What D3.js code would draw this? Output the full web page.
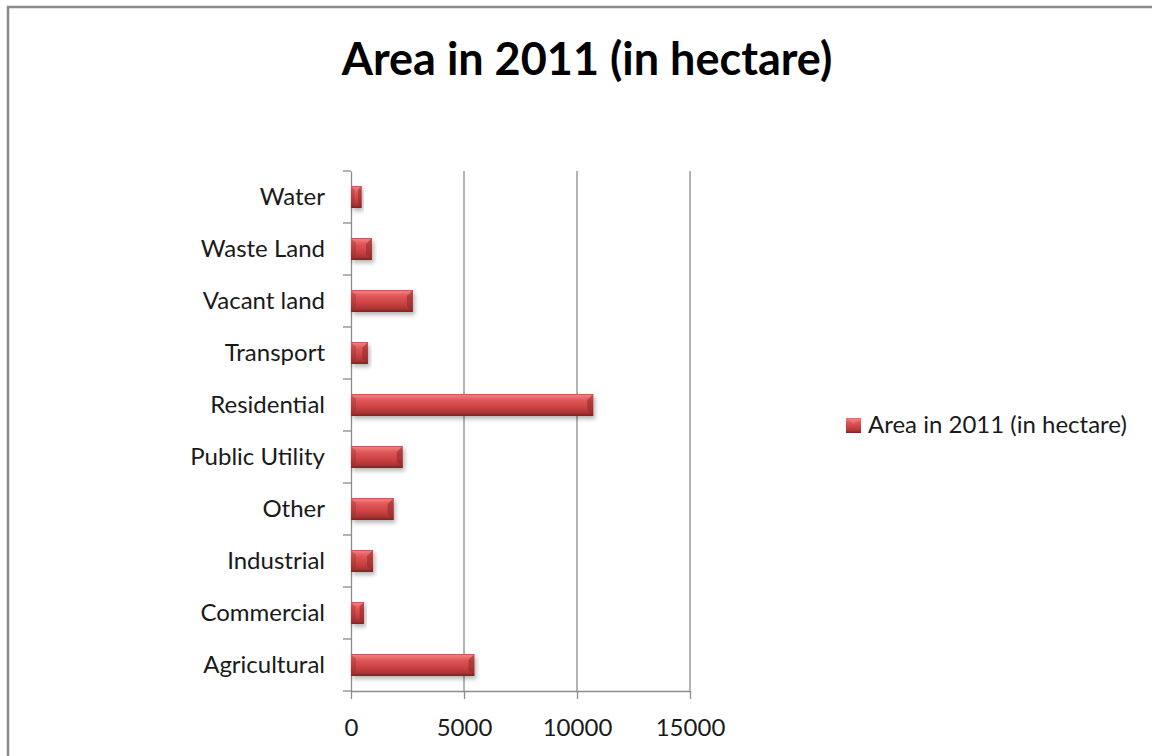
<!DOCTYPE html>
<html>
<head>
<meta charset="utf-8">
<script src="https://cdn.jsdelivr.net/npm/d3@7"></script>
<style>
  html, body { margin: 0; padding: 0; background: #fff; }
  svg { display: block; }
  text { font-family: Lato, "Open Sans", sans-serif; fill: #1a1a1a; }
</style>
</head>
<body>
<svg id="chart" width="1152" height="756"></svg>
<script>
// Data (top to bottom as shown)
const categories = ["Water", "Waste Land", "Vacant land", "Transport", "Residential",
                    "Public Utility", "Other", "Industrial", "Commercial", "Agricultural"];
const values = [470, 930, 2740, 750, 10720, 2290, 1890, 975, 575, 5460];
const xTicks = [0, 5000, 10000, 15000];
const seriesName = "Area in 2011 (in hectare)";
const titleText = "Area in 2011 (in hectare)";

const svg = d3.select("#chart");
svg.append("rect").attr("width", 1152).attr("height", 756).attr("fill", "#fff");

// defs
const defs = svg.append("defs");
const grad = defs.append("linearGradient").attr("id", "barGrad")
  .attr("x1", 0).attr("y1", 0).attr("x2", 0).attr("y2", 1);
[[0, "#c24545"], [0.07, "#f07c7a"], [0.28, "#e05757"], [0.6, "#cc4343"], [0.85, "#ad3535"], [1, "#7a2222"]]
  .forEach(([o, c]) => grad.append("stop").attr("offset", o).attr("stop-color", c));
const shadow = defs.append("filter").attr("id", "shadow")
  .attr("x", "-20%").attr("y", "-40%").attr("width", "140%").attr("height", "200%");
shadow.append("feDropShadow").attr("dx", 2).attr("dy", 3).attr("stdDeviation", 2.2)
  .attr("flood-color", "#000").attr("flood-opacity", 0.28);

// Outer frame
svg.append("rect").attr("x", 8).attr("y", 7).attr("width", 1300).attr("height", 900)
  .attr("fill", "none").attr("stroke", "#8a8a8a").attr("stroke-width", 2.5);

// Title
svg.append("text").attr("x", 587).attr("y", 75).attr("text-anchor", "middle")
  .style("font-size", "45px").style("font-weight", "bold").style("fill", "#000")
  .text(titleText);

// Scales
const x = d3.scaleLinear().domain([0, 15000]).range([351, 690]);
const y = d3.scaleBand().domain(categories).range([171, 691])
  .paddingInner(0.577).paddingOuter(0.2885);
const step = y.step();

// Gridlines
svg.append("g").selectAll("line").data(xTicks.slice(1)).join("line")
  .attr("x1", d => x(d)).attr("x2", d => x(d))
  .attr("y1", 171).attr("y2", 691)
  .attr("stroke", "#8c8c8c").attr("stroke-width", 1.3);

// X axis
const xAxis = svg.append("g").attr("transform", "translate(0,691)")
  .call(d3.axisBottom(x).tickValues(xTicks).tickFormat(d3.format("d"))
    .tickSizeInner(8).tickSizeOuter(0).tickPadding(20));
xAxis.select(".domain").attr("stroke", "#8c8c8c").attr("stroke-width", 1.3);
xAxis.selectAll(".tick line").attr("stroke", "#8c8c8c").attr("stroke-width", 1.3);
xAxis.selectAll(".tick text").style("font-size", "24px").style("fill", "#1a1a1a")
  .style("font-family", "Lato, sans-serif");

// Y axis (labels)
const yAxis = svg.append("g").attr("transform", "translate(351,0)")
  .call(d3.axisLeft(y).tickSize(0).tickPadding(26));
yAxis.select(".domain").attr("stroke", "#8c8c8c").attr("stroke-width", 1.3);
yAxis.selectAll(".tick text").style("font-size", "24px").style("fill", "#1a1a1a")
  .style("font-family", "Lato, sans-serif");
// boundary ticks
const bounds = [categories[0]].map(c => y(c) + y.bandwidth() / 2 - step / 2)
  .concat(categories.map(c => y(c) + y.bandwidth() / 2 + step / 2));
svg.append("g").selectAll("line").data(bounds).join("line")
  .attr("x1", 343).attr("x2", 351).attr("y1", d => d).attr("y2", d => d)
  .attr("stroke", "#8c8c8c").attr("stroke-width", 1.3);

// Bars
const bars = svg.append("g").selectAll("g").data(categories.map((c, i) => ({c, v: values[i]})))
  .join("g");
bars.append("rect")
  .attr("x", x(0)).attr("y", d => y(d.c))
  .attr("width", d => x(d.v) - x(0)).attr("height", y.bandwidth())
  .attr("fill", "url(#barGrad)").attr("filter", "url(#shadow)");
// bevel ends
bars.append("path")
  .attr("d", d => {
    const x0 = x(0), x1 = x(d.v), y0 = y(d.c), h = y.bandwidth();
    const b = Math.min(6, (x1 - x0) / 3);
    return `M${x1},${y0} L${x1 - b},${y0 + b} L${x1 - b},${y0 + h - b} L${x1},${y0 + h} Z`;
  })
  .attr("fill", "#8e2a2a").attr("opacity", 0.55);
bars.append("path")
  .attr("d", d => {
    const x0 = x(0), x1 = x(d.v), y0 = y(d.c), h = y.bandwidth();
    const b = Math.min(5, (x1 - x0) / 3);
    return `M${x0},${y0} L${x0 + b},${y0 + b} L${x0 + b},${y0 + h - b} L${x0},${y0 + h} Z`;
  })
  .attr("fill", "#8e2a2a").attr("opacity", 0.35);

// Legend
const lg = svg.append("g").attr("transform", "translate(846,418)");
lg.append("rect").attr("width", 15).attr("height", 15).attr("fill", "url(#barGrad)");
lg.append("path").attr("d", "M0,0 L7.5,6 L15,0 Z").attr("fill", "#f07c7a").attr("opacity", 0.6);
lg.append("text").attr("x", 22).attr("y", 15).style("font-size", "24px")
  .text(seriesName);
</script>
</body>
</html>
